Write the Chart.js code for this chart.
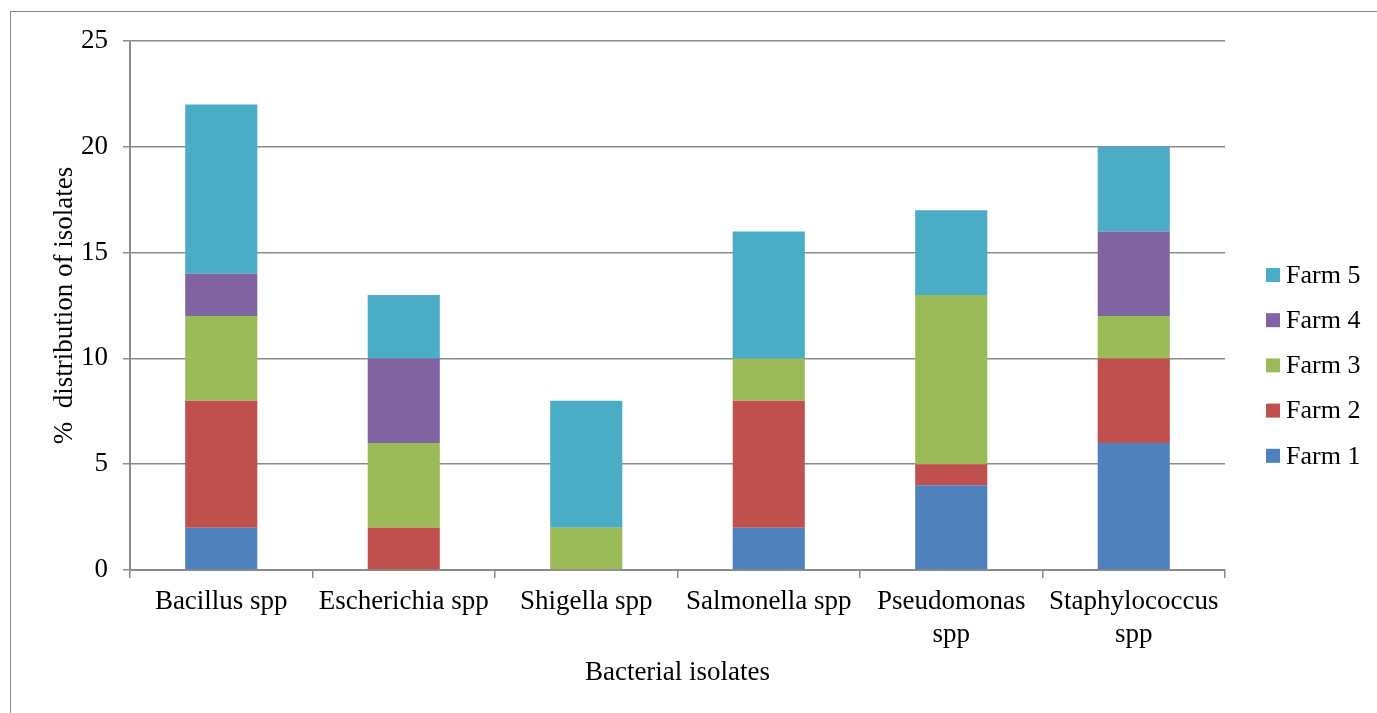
<!DOCTYPE html>
<html>
<head>
<meta charset="utf-8">
<script src="https://cdn.jsdelivr.net/npm/chart.js@4.4.1/dist/chart.umd.min.js"></script>
<style>
  html, body { margin: 0; padding: 0; background: #fff; }
  #wrap { position: relative; width: 1377px; height: 713px; }
  #frame { position: absolute; left: 10px; top: 11px; right: 0; bottom: 0;
           border-top: 1.5px solid #8c8c8c; border-left: 1.5px solid #8c8c8c; }
  canvas { position: absolute; left: 0; top: 0; }
</style>
</head>
<body>
<div id="wrap">
  <div id="frame"></div>
  <canvas id="chart" width="1377" height="713"></canvas>
</div>
<script>
// isolates per farm (% distribution)
const isolates = ['Bacillus spp', 'Escherichia spp', 'Shigella spp', 'Salmonella spp', ['Pseudomonas', 'spp'], ['Staphylococcus', 'spp']];
const farm1 = [2, 0, 0, 2, 4, 6];
const farm2 = [6, 2, 0, 6, 1, 4];
const farm3 = [4, 4, 2, 2, 8, 2];
const farm4 = [2, 4, 0, 0, 0, 4];
const farm5 = [8, 3, 6, 6, 4, 4];
const yTicks = [0, 5, 10, 15, 20, 25];

const font = 'Liberation Serif';
const fs = 27;
const grey = '#8c8c8c';

const ds = (label, data, color) => ({
    label: label,
    data: data,
    backgroundColor: color,
    borderWidth: 0,
    barPercentage: 0.395,
    categoryPercentage: 1
});

// legend on the right, Farm 5 on top
const sideLegend = {
    id: 'sideLegend',
    afterDraw(chart) {
        const ctx = chart.ctx;
        const sets = chart.data.datasets;
        ctx.save();
        ctx.font = '26px "' + font + '"';
        ctx.textBaseline = 'middle';
        ctx.fillStyle = '#000';
        for (let k = 0; k < sets.length; k++) {
            const d = sets[sets.length - 1 - k];
            const y = 275 + k * 45.2;
            ctx.fillStyle = d.backgroundColor;
            ctx.fillRect(1266, y - 7, 14, 14);
            ctx.fillStyle = '#000';
            ctx.fillText(d.label, 1286, y + 1);
        }
        ctx.restore();
    }
};

new Chart(document.getElementById('chart'), {
    type: 'bar',
    data: {
        labels: isolates,
        datasets: [
            ds('Farm 1', farm1, '#4F81BD'),
            ds('Farm 2', farm2, '#C0504D'),
            ds('Farm 3', farm3, '#9BBB59'),
            ds('Farm 4', farm4, '#8064A2'),
            ds('Farm 5', farm5, '#4BACC6')
        ]
    },
    options: {
        responsive: false,
        animation: false,
        layout: { padding: { left: 45, top: 41, right: 152, bottom: 20 } },
        plugins: {
            tooltip: { enabled: false },
            legend: { display: false }
        },
        scales: {
            x: {
                stacked: true,
                grid: { offset: true, drawOnChartArea: false, tickLength: 8, color: grey, lineWidth: 1.5 },
                border: { color: grey, width: 2 },
                ticks: { color: '#000', font: { family: font, size: fs }, padding: 8, maxRotation: 0, autoSkip: false },
                title: { display: true, text: 'Bacterial isolates', color: '#000', font: { family: font, size: fs }, padding: { top: 8 } },
                afterFit: s => { s.height = 123; }
            },
            y: {
                stacked: true,
                min: 0,
                max: 25,
                afterBuildTicks: s => { s.ticks = yTicks.map(v => ({ value: v })); },
                grid: { color: grey, lineWidth: 1.5, tickLength: 7 },
                border: { color: grey, width: 2 },
                ticks: { color: '#000', font: { family: font, size: fs }, padding: 15 },
                title: { display: true, text: '%  distribution of isolates', color: '#000', font: { family: font, size: fs } },
                afterFit: s => { s.width = 85; }
            }
        }
    },
    plugins: [sideLegend]
});
</script>
</body>
</html>
